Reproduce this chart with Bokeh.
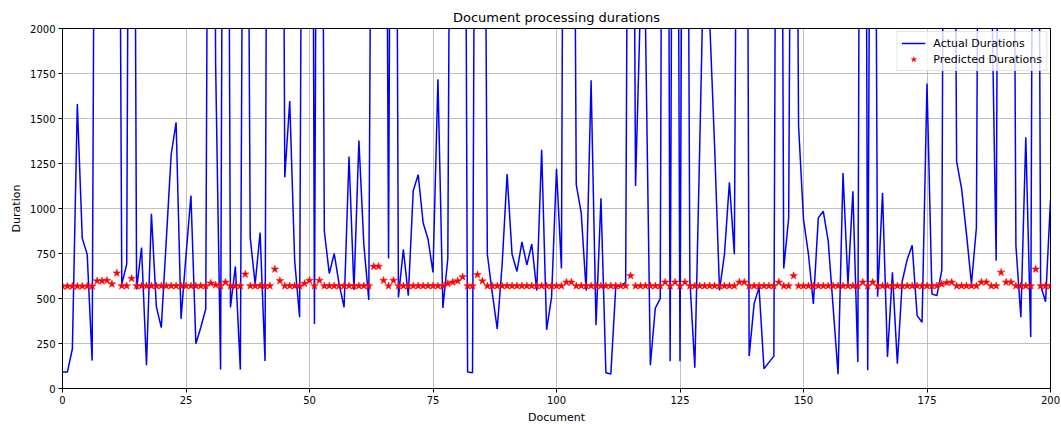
from bokeh.plotting import figure
from bokeh.models import FixedTicker, Legend, LegendItem, Range1d
from bokeh.embed import file_html
from bokeh.resources import INLINE

FONT = "DejaVu Sans"

# Document index on the x axis
documents = list(range(201))

# Measured processing durations (values far above the visible range spike off the top)
actual_durations = [
    92, 92, 221, 1580, 835, 745, 155, 6400, 7900, 5600,
    8800, 6200, 580, 690, 7300, 550, 783, 129, 971, 455,
    338, 820, 1300, 1478, 387, 740, 1072, 249, 340, 442,
    6900, 1800, 105, 7600, 451, 678, 105, 5900, 838, 580,
    866, 153, 8400, 6100, 7200, 1173, 1597, 709, 396, 6600,
    9100, 359, 7000, 875, 639, 750, 580, 451, 1289, 547,
    1377, 800, 492, 5800, 8300, 6700, 722, 7500, 506, 773,
    516, 1099, 1188, 921, 829, 645, 1718, 448, 722, 6300,
    9400, 7100, 92, 88, 6800, 5500, 746, 530, 331, 690,
    1191, 746, 650, 814, 687, 803, 544, 1326, 326, 506,
    1221, 667, 7800, 6000, 1133, 976, 544, 1713, 352, 1057,
    87, 80, 566, 571, 589, 6500, 1125, 2150, 2050, 129,
    447, 499, 8600, 152, 7300, 152, 6900, 600, 116, 1350,
    2650, 2050, 1350, 545, 746, 1145, 746, 5700, 8000, 180,
    470, 562, 110, 145, 180, 7400, 667, 948, 6200, 1460,
    940, 746, 470, 948, 985, 820, 451, 79, 1197, 580,
    1096, 147, 8900, 101, 6600, 510, 1087, 175, 645, 138,
    597, 717, 796, 405, 368, 1694, 525, 516, 657, 7700,
    5900, 1261, 1110, 856, 581, 893, 6400, 8100, 2400, 710,
    7000, 9200, 6100, 792, 396, 1396, 286, 7600, 571, 482,
    1050,
]

# Model predictions for the same documents
predicted_durations = [
    568, 568, 568, 568, 568, 568, 568, 597, 597, 600,
    580, 641, 570, 570, 611, 570, 570, 570, 570, 570,
    570, 570, 570, 570, 570, 570, 570, 570, 570, 570,
    585, 575, 570, 590, 570, 570, 570, 635, 570, 570,
    570, 570, 570, 663, 598, 570, 570, 570, 570, 583,
    600, 570, 600, 570, 570, 570, 570, 570, 570, 570,
    570, 570, 570, 678, 678, 600, 570, 600, 570, 570,
    570, 570, 570, 570, 570, 570, 570, 570, 583, 590,
    597, 620, 570, 570, 632, 597, 570, 570, 570, 570,
    570, 570, 570, 570, 570, 570, 570, 570, 570, 570,
    570, 570, 590, 590, 570, 570, 570, 570, 570, 570,
    570, 570, 570, 570, 570, 626, 570, 570, 570, 570,
    570, 570, 590, 570, 590, 570, 590, 570, 570, 570,
    570, 570, 570, 570, 570, 570, 570, 590, 590, 570,
    570, 570, 570, 570, 570, 590, 570, 570, 626, 570,
    570, 570, 570, 570, 570, 570, 570, 570, 570, 570,
    570, 570, 590, 570, 590, 570, 570, 570, 570, 570,
    570, 570, 570, 570, 570, 570, 570, 570, 580, 588,
    590, 570, 570, 570, 570, 570, 590, 590, 570, 570,
    645, 590, 590, 570, 570, 570, 570, 663, 570, 570,
    570,
]

x_ticks = [0, 25, 50, 75, 100, 125, 150, 175, 200]
y_ticks = [0, 250, 500, 750, 1000, 1250, 1500, 1750, 2000]

p = figure(
    width=1061, height=426,
    x_range=Range1d(0, 200), y_range=Range1d(0, 2000),
    output_backend="svg", toolbar_location=None,
    min_border_left=62, min_border_right=11,
    min_border_top=28, min_border_bottom=36,
    title="Document processing durations",
)
p.background_fill_color = "white"
p.border_fill_color = "white"
p.outline_line_color = "black"
p.outline_line_width = 1

p.title.align = "center"
p.title.text_font = FONT
p.title.text_font_size = "13px"
p.title.text_font_style = "normal"
p.title.text_color = "black"
p.title.standoff = 7

for ax, ticks, label in ((p.xaxis, x_ticks, "Document"), (p.yaxis, y_ticks, "Duration")):
    ax.ticker = FixedTicker(ticks=ticks)
    ax.axis_label = label
    ax.axis_label_text_font = FONT
    ax.axis_label_text_font_size = "11px"
    ax.axis_label_text_font_style = "normal"
    ax.axis_label_text_color = "black"
    ax.axis_label_standoff = 4
    ax.major_label_text_font = FONT
    ax.major_label_text_font_size = "10px"
    ax.major_label_text_color = "black"
    ax.major_label_standoff = 3
    ax.major_tick_out = 4
    ax.major_tick_in = 0
    ax.major_tick_line_color = "black"
    ax.minor_tick_line_color = None
    ax.axis_line_color = "black"

p.xgrid.ticker = FixedTicker(ticks=x_ticks)
p.ygrid.ticker = FixedTicker(ticks=y_ticks)
p.grid.grid_line_color = "#b0b0b0"
p.grid.grid_line_width = 0.8

actual_line = p.line(documents, actual_durations, line_color="#0000ff", line_width=1.5)
predicted_pts = p.scatter(documents, predicted_durations, marker="star", size=8,
                          fill_color="#ff0000", line_color="#ff0000", line_width=0.5)

legend = Legend(
    items=[
        LegendItem(label="Actual Durations", renderers=[actual_line]),
        LegendItem(label="Predicted Durations", renderers=[predicted_pts]),
    ],
    location="top_right",
    label_text_font=FONT,
    label_text_font_size="11px",
    label_text_color="black",
    glyph_width=24,
    glyph_height=14,
    label_height=14,
    label_standoff=8,
    spacing=2,
    padding=4,
    margin=3,
    border_line_color="#cccccc",
    border_line_width=1,
    background_fill_alpha=0.8,
)
p.add_layout(legend)

open("out.html", "w").write(file_html(p, INLINE))
